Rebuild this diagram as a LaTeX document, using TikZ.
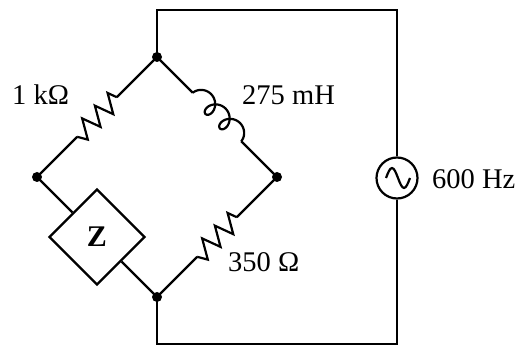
\documentclass[tikz,border=0pt]{standalone}
\usepackage[no-math]{fontspec}
\setmainfont{Liberation Serif}
\usetikzlibrary{shapes.geometric,calc}
\tikzset{
  wire/.style={line width=2.2pt, line join=miter},
  junc/.style={circle, fill=black, inner sep=0pt, minimum size=10pt},
  lbl/.style={inner sep=0pt, anchor=base west, font=\fontsize{28.5}{30}\selectfont},
}
\newcommand{\zigpath}{%
  \draw[wire] (-28,0) -- (-24.5,9.5) -- (-13.5,-9.5) -- (-6.5,9.5) -- (4.5,-9.5)
     -- (11.5,9.5) -- (22.5,-9.5) -- (28,0);}
\begin{document}
\begin{tikzpicture}[x=1pt, y=-1pt]
\useasboundingbox (0,0) rectangle (522,347);
% junctions
\node[junc] (T) at (157,57) {};
\node[junc] (L) at (37,177) {};
\node[junc] (R) at (277,177) {};
\node[junc] (B) at (157,297) {};
% frame corners
\coordinate (c1) at (157,10);
\coordinate (c2) at (397,10);
\coordinate (c3) at (397,344);
\coordinate (c4) at (157,344);
% source
\node[circle, draw, wire, minimum size=41pt, inner sep=0pt] (src) at (397,178) {};
\draw[wire] (386,178) sin (392,168) cos (398,178) sin (404,188) cos (410,178);
\draw[wire] (T.center) -- (c1) -- (c2) -- (src.north);
\draw[wire] (B.center) -- (c4) -- (c3) -- (src.south);
% 1k resistor
\coordinate (r1a) at ($(T)!0.5!(L)+(19.8,-19.8)$);
\coordinate (r1b) at ($(T)!0.5!(L)+(-19.8,19.8)$);
\draw[wire] (T.center) -- (r1a);
\draw[wire] (r1b) -- (L.center);
\begin{scope}[shift={($(T)!0.5!(L)$)}, rotate=-135]
  \zigpath
\end{scope}
% 350 resistor
\coordinate (r2a) at ($(R)!0.5!(B)+(19.8,-19.8)$);
\coordinate (r2b) at ($(R)!0.5!(B)+(-19.8,19.8)$);
\draw[wire] (R.center) -- (r2a);
\draw[wire] (r2b) -- (B.center);
\begin{scope}[shift={($(R)!0.5!(B)$)}, rotate=-135]
  \zigpath
\end{scope}
% inductor
\coordinate (la) at (192.8,92.8);
\coordinate (lb) at (241.2,141.2);
\draw[wire] (T.center) -- (la);
\draw[wire] (lb) -- (R.center);
\draw[line width=2.2pt] plot[domain=1.231:17.619, samples=400, variable=\t]
  ({217 + 0.7071*((3.26*\t - 8*sin(\t r) - 30.7) + (3 - 9*cos(\t r)))},
   {117 + 0.7071*((3.26*\t - 8*sin(\t r) - 30.7) - (3 - 9*cos(\t r)))});
% Z
\node[diamond, draw, wire, aspect=1, minimum size=96pt, inner sep=0pt] (Z) at (97,237)
  {\fontsize{30}{32}\selectfont\bfseries Z};
\draw[wire] (L.center) -- (Z);
\draw[wire] (Z) -- (B.center);
% labels
\node[lbl] (t1) at (12,105) {1 kΩ};
\node[lbl] (t2) at (242,105) {275 mH};
\node[lbl] (t3) at (228,272) {350 Ω};
\node[lbl] (t4) at (432,189) {600 Hz};
\end{tikzpicture}
\end{document}
